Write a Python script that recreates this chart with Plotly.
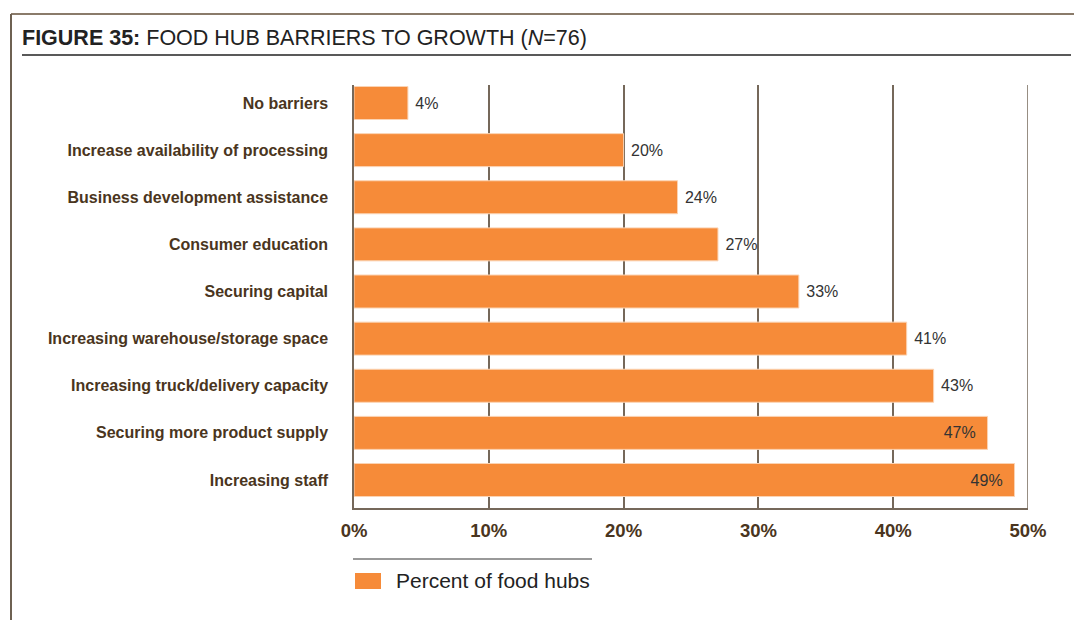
import plotly.graph_objects as go

# data
barriers = [
    "No barriers",
    "Increase availability of processing",
    "Business development assistance",
    "Consumer education",
    "Securing capital",
    "Increasing warehouse/storage space",
    "Increasing truck/delivery capacity",
    "Securing more product supply",
    "Increasing staff",
]
percent = [4, 20, 24, 27, 33, 41, 43, 47, 49]
x_ticks = [0, 10, 20, 30, 40, 50]
x_tick_text = ["0%", "10%", "20%", "30%", "40%", "50%"]
series_name = "Percent of food hubs"

W, H = 1074, 620
L, T, R, B = 354, 85, 1028, 508  # plot area in pixels


def fx(x):
    return (x - L) / (R - L)


def fy(y):
    return (B - y) / (B - T)


orange = "#F68B39"
brown = "#4a3520"
grid = "#75685a"
FONT = "Liberation Sans, Arial"

text_pos = ["inside" if v >= 45 else "outside" for v in percent]
labels = [f"{v}%&nbsp;&nbsp;" if v >= 45 else f"&nbsp;{v}%" for v in percent]

fig = go.Figure(go.Bar(
    x=percent,
    y=list(range(len(barriers))),
    orientation="h",
    marker=dict(color=orange, line=dict(color="#fbd3b3", width=1)),
    width=0.7,
    text=labels,
    textposition=text_pos,
    insidetextanchor="end",
    textfont=dict(family=FONT, size=16, color="#333333"),
    insidetextfont=dict(family=FONT, size=16, color="#333333"),
    outsidetextfont=dict(family=FONT, size=16, color="#333333"),
    cliponaxis=False,
    name=series_name,
    showlegend=False,
    hoverinfo="skip",
))

fig.update_layout(
    width=W, height=H,
    margin=dict(l=L, r=W - R, t=T, b=H - B),
    paper_bgcolor="white",
    plot_bgcolor="white",
    font=dict(family=FONT),
)

fig.update_xaxes(
    range=[0, 50],
    tickvals=x_ticks,
    ticktext=x_tick_text,
    showgrid=True, gridcolor=grid, gridwidth=1.5,
    showline=True, linecolor=grid, linewidth=1.5,
    zeroline=False,
    ticks="",
    ticklabelstandoff=5,
    tickfont=dict(size=18.5, color=brown, family=FONT, weight="bold"),
)

fig.update_yaxes(
    range=[8.594, -0.382],
    tickvals=list(range(len(barriers))),
    ticktext=barriers,
    showgrid=False,
    showline=True, linecolor=grid, linewidth=1.5,
    zeroline=False,
    ticks="",
    ticklabelstandoff=21,
    tickfont=dict(size=16, color=brown, family=FONT, weight="bold"),
)

shapes = [
    # right border of plot
    dict(type="line", xref="x", yref="paper", x0=50, x1=50, y0=0, y1=1,
         line=dict(color=grid, width=1.5)),
    # outer frame
    dict(type="line", xref="paper", yref="paper", x0=fx(11), x1=fx(1074), y0=fy(14), y1=fy(14),
         line=dict(color="#8a7b6a", width=2)),
    dict(type="line", xref="paper", yref="paper", x0=fx(11), x1=fx(11), y0=fy(14), y1=fy(620),
         line=dict(color="#6e6152", width=2)),
    # title underline
    dict(type="line", xref="paper", yref="paper", x0=fx(22), x1=fx(1071), y0=fy(55), y1=fy(55),
         line=dict(color="#222222", width=1.5)),
    # legend rule and swatch
    dict(type="line", xref="paper", yref="paper", x0=fx(353), x1=fx(592), y0=fy(559), y1=fy(559),
         line=dict(color="#777777", width=1.5)),
    dict(type="rect", xref="paper", yref="paper", x0=fx(355), x1=fx(381), y0=fy(589), y1=fy(573),
         fillcolor=orange, line=dict(width=0)),
]
fig.update_layout(shapes=shapes)

fig.add_annotation(
    xref="paper", yref="paper", x=fx(20), y=fy(38),
    xanchor="left", yanchor="middle", showarrow=False,
    text="<b>FIGURE 35:</b> FOOD HUB BARRIERS TO GROWTH (<i>N</i>=76)",
    font=dict(size=21.5, color="#222222", family=FONT),
)
fig.add_annotation(
    xref="paper", yref="paper", x=fx(394), y=fy(580),
    xanchor="left", yanchor="middle", showarrow=False,
    text=series_name,
    font=dict(size=21, color="#222222", family=FONT),
)

fig.write_html("out.html", config={"displayModeBar": False},
               post_script="document.body.style.margin='0';")
